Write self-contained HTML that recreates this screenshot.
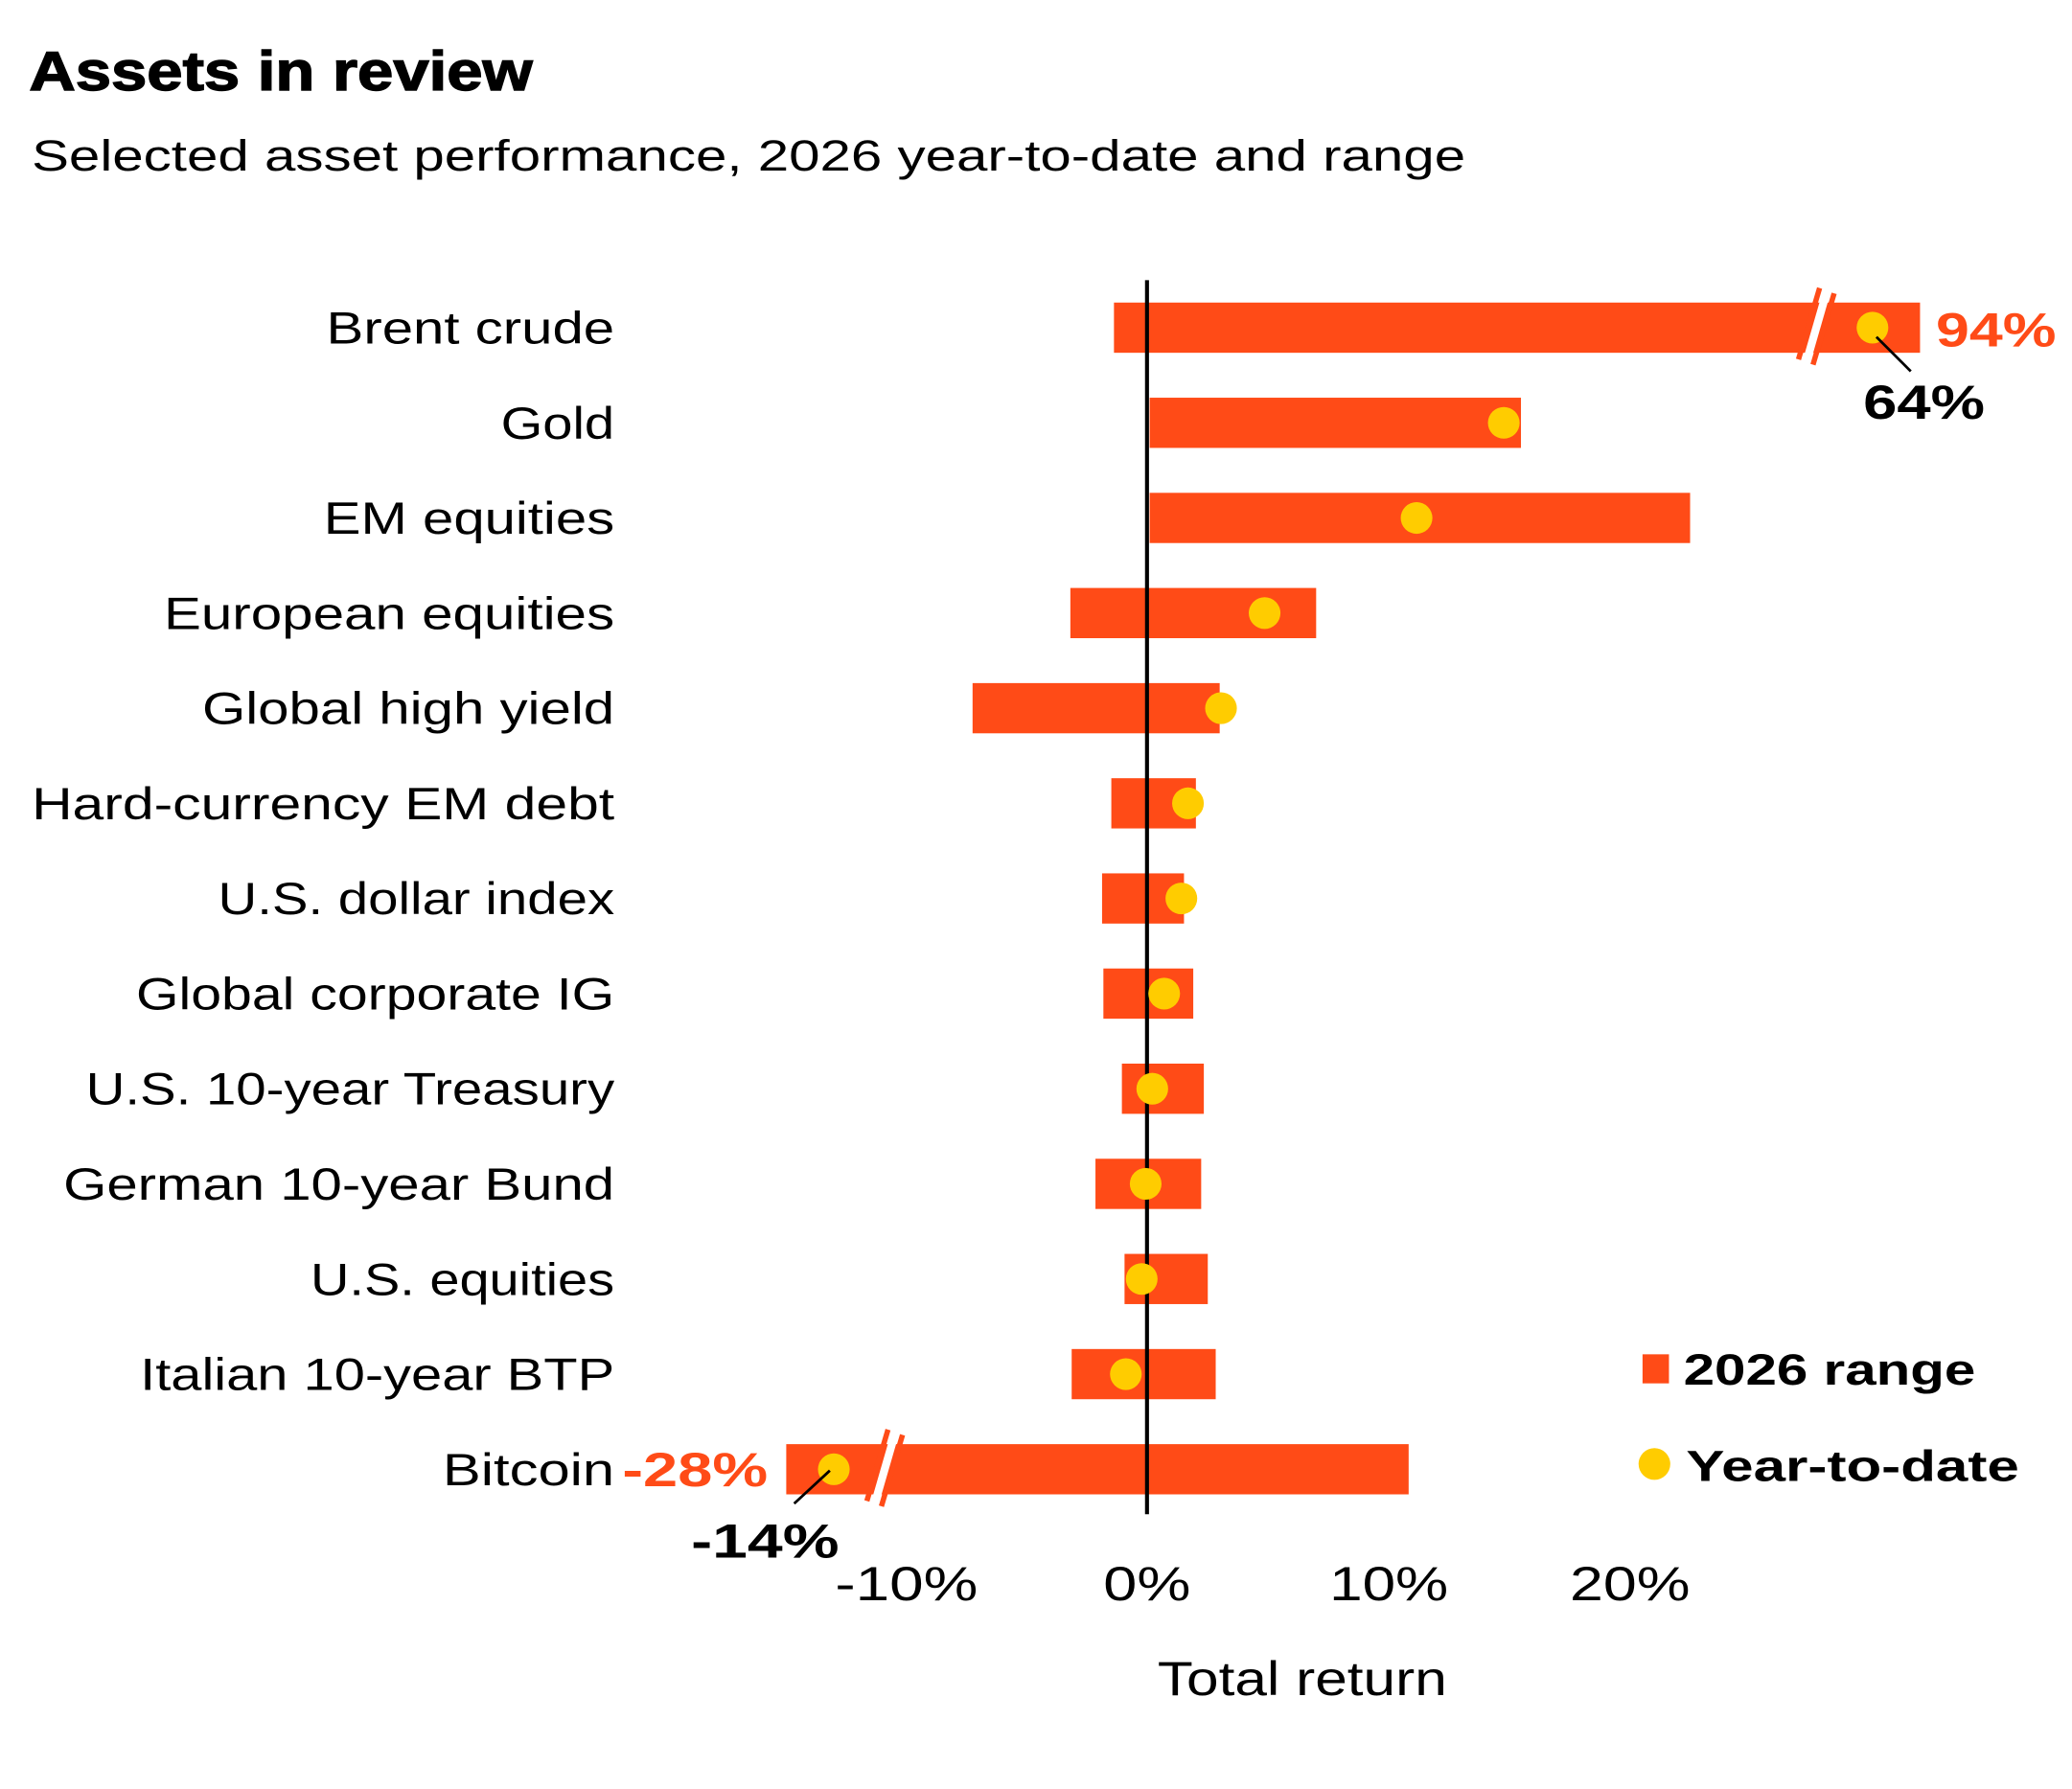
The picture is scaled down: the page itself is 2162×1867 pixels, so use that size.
<!DOCTYPE html>
<html><head><meta charset="utf-8"><style>html,body{margin:0;padding:0;background:#fff}svg{display:block}</style></head>
<body>
<svg width="2162" height="1867" viewBox="0 0 1568 1354" preserveAspectRatio="none" xmlns="http://www.w3.org/2000/svg" font-family="Liberation Sans, sans-serif">
<text x="22" y="68" font-size="42" font-weight="bold" fill="#000" stroke="#000" stroke-width="1" textLength="381" lengthAdjust="spacingAndGlyphs">Assets in review</text>
<text x="24" y="129" font-size="33" fill="#000" textLength="1085" lengthAdjust="spacingAndGlyphs">Selected asset performance, 2026 year-to-date and range</text>
<g font-size="34" fill="#000" text-anchor="end">
<text x="465" y="260" textLength="218" lengthAdjust="spacingAndGlyphs">Brent crude</text>
<text x="465" y="332" textLength="86" lengthAdjust="spacingAndGlyphs">Gold</text>
<text x="465" y="404" textLength="220" lengthAdjust="spacingAndGlyphs">EM equities</text>
<text x="465" y="476" textLength="341" lengthAdjust="spacingAndGlyphs">European equities</text>
<text x="465" y="548" textLength="312" lengthAdjust="spacingAndGlyphs">Global high yield</text>
<text x="465" y="620" textLength="441" lengthAdjust="spacingAndGlyphs">Hard-currency EM debt</text>
<text x="465" y="692" textLength="300" lengthAdjust="spacingAndGlyphs">U.S. dollar index</text>
<text x="465" y="764" textLength="362" lengthAdjust="spacingAndGlyphs">Global corporate IG</text>
<text x="465" y="836" textLength="400" lengthAdjust="spacingAndGlyphs">U.S. 10-year Treasury</text>
<text x="465" y="908" textLength="417" lengthAdjust="spacingAndGlyphs">German 10-year Bund</text>
<text x="465" y="980" textLength="230" lengthAdjust="spacingAndGlyphs">U.S. equities</text>
<text x="465" y="1052" textLength="359" lengthAdjust="spacingAndGlyphs">Italian 10-year BTP</text>
<text x="465" y="1124" textLength="130" lengthAdjust="spacingAndGlyphs">Bitcoin</text>
</g>
<g fill="#ff4b17">
<rect x="843" y="229" width="610" height="38"/>
<rect x="870" y="301" width="281" height="38"/>
<rect x="870" y="373" width="409" height="38"/>
<rect x="810" y="445" width="186" height="38"/>
<rect x="736" y="517" width="187" height="38"/>
<rect x="841" y="589" width="64" height="38"/>
<rect x="834" y="661" width="62" height="38"/>
<rect x="835" y="733" width="68" height="38"/>
<rect x="849" y="805" width="62" height="38"/>
<rect x="829" y="877" width="80" height="38"/>
<rect x="851" y="949" width="63" height="38"/>
<rect x="811" y="1021" width="109" height="38"/>
<rect x="595" y="1093" width="471" height="38"/>
</g>
<g>
<line x1="1382" y1="222" x2="1367" y2="274" stroke="#fff" stroke-width="6"/>
<line x1="1377" y1="218" x2="1361" y2="272" stroke="#ff4b17" stroke-width="4"/>
<line x1="1388" y1="222" x2="1372" y2="276" stroke="#ff4b17" stroke-width="4"/>
<line x1="677" y1="1086" x2="662" y2="1138" stroke="#fff" stroke-width="6"/>
<line x1="672" y1="1082" x2="656" y2="1136" stroke="#ff4b17" stroke-width="4"/>
<line x1="683" y1="1086" x2="667" y2="1140" stroke="#ff4b17" stroke-width="4"/>
</g>
<line x1="868" y1="212" x2="868" y2="1146" stroke="#000" stroke-width="3"/>
<g fill="#ffcc00">
<circle cx="1417" cy="248" r="12"/>
<circle cx="1138" cy="320" r="12"/>
<circle cx="1072" cy="392" r="12"/>
<circle cx="957" cy="464" r="12"/>
<circle cx="924" cy="536" r="12"/>
<circle cx="899" cy="608" r="12"/>
<circle cx="894" cy="680" r="12"/>
<circle cx="881" cy="752" r="12"/>
<circle cx="872" cy="824" r="12"/>
<circle cx="867" cy="896" r="12"/>
<circle cx="864" cy="968" r="12"/>
<circle cx="852" cy="1040" r="12"/>
<circle cx="631" cy="1112" r="12"/>
</g>
<line x1="1420" y1="255" x2="1446" y2="281" stroke="#000" stroke-width="2"/>
<line x1="628" y1="1113" x2="601" y2="1138" stroke="#000" stroke-width="2"/>
<g font-weight="bold" font-size="36">
<text x="1465" y="262" fill="#ff4b17" textLength="91" lengthAdjust="spacingAndGlyphs">94%</text>
<text x="1410" y="317" fill="#000" textLength="92" lengthAdjust="spacingAndGlyphs">64%</text>
<text x="471" y="1125" fill="#ff4b17" textLength="110" lengthAdjust="spacingAndGlyphs">-28%</text>
<text x="523" y="1179" fill="#000" textLength="112" lengthAdjust="spacingAndGlyphs">-14%</text>
</g>
<g font-size="36" fill="#000">
<text x="632" y="1211" textLength="108" lengthAdjust="spacingAndGlyphs">-10%</text>
<text x="835" y="1211" textLength="66" lengthAdjust="spacingAndGlyphs">0%</text>
<text x="1006" y="1211" textLength="90" lengthAdjust="spacingAndGlyphs">10%</text>
<text x="1188" y="1211" textLength="91" lengthAdjust="spacingAndGlyphs">20%</text>
<text x="876" y="1283" textLength="219" lengthAdjust="spacingAndGlyphs">Total return</text>
</g>
<rect x="1243" y="1025" width="20" height="22" fill="#ff4b17"/>
<circle cx="1252" cy="1108" r="12" fill="#ffcc00"/>
<g font-size="33" font-weight="bold" fill="#000">
<text x="1274" y="1048" textLength="221" lengthAdjust="spacingAndGlyphs">2026 range</text>
<text x="1276" y="1121" textLength="252" lengthAdjust="spacingAndGlyphs">Year-to-date</text>
</g>
</svg>
</body></html>
